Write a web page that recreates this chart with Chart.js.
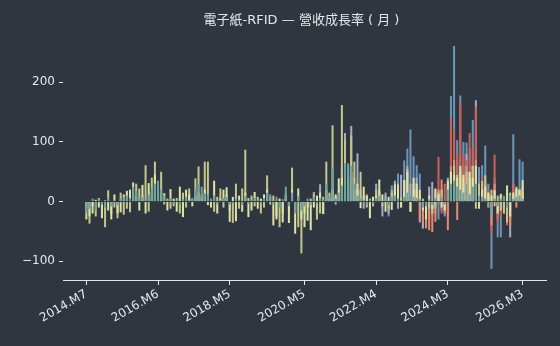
<!DOCTYPE html>
<html>
<head>
<meta charset="utf-8">
<script src="https://cdn.jsdelivr.net/npm/chart.js@4/dist/chart.umd.min.js"></script>
<style>
  html, body { margin: 0; padding: 0; background: #2f3640; }
  #wrap { width: 560px; height: 346px; }
</style>
</head>
<body>
<div id="wrap"><canvas id="chart"></canvas></div>
<script>
// 月份範圍 (含左右留白)
const firstYear = 2013, firstMonth = 12, monthCount = 155;
const dataStart = 7; // 2014.M7
const tickLabels = ['2014.M7', '2016.M6', '2018.M5', '2020.M5', '2022.M4', '2024.M3', '2026.M3'];
const yTickValues = [-100, 0, 100, 200];

// 各公司月營收成長率 (%), 由 2014.M7 起
const tealSeries = [
  -20, -12, 5, -15, 4, -5, -10, 6, -8, 3,
  -6, 5, 8, 10, 6, 25, 18, 5, 8, 4,
  12, 22, 30, 35, 20, 10, 3, 6, -3, 2,
  -5, 4, 8, 2, 6, 20, 30, 25, 14, 12,
  5, 10, -4, 3, 6, 8, -5, -3, 5, 3,
  -6, 10, -4, 3, 6, 2, -3, 6, 15, 12,
  -5, 8, -10, 4, 25, -8, 15, -20, 10, -15,
  -8, 5, -6, 8, -4, 6, 4, 30, 8, 58,
  5, 15, 27, 64, 64, 60, 30, 10, 5, 3,
  -5, 3, -4, 6, 10, -3, 4, -6, 8, 10,
  5, 2, 8, 15, 10, 8, 6, 4, -10, -8,
  4, -6, 6, -4, 8, -5, 20, 30, 35, 25,
  20, 15, 30, 12, 25, 30, 10, 8, 5, -10,
  -25, 5, -8, 5, 8, -10, 10, 5, 8, 10, 5
];
const paleSeries = [
  -30, -25, -20, 3, -10, -28, 2, -15, -30, 12,
  -20, -18, 12, 18, 20, 32, 8, -15, 28, -20,
  31, 15, 45, 20, 15, 14, -15, 21, 5, -17,
  25, -26, 20, 12, -8, 10, 15, 8, 20, -6,
  -10, 35, -20, 5, 20, 24, -34, 8, -33, 10,
  -17, 15, -26, -15, 16, -12, 5, 12, 20, 8,
  -40, -30, 5, -35, 12, -36, 20, -54, 22, -30,
  -43, -32, -48, -10, 10, 15, -21, 20, 5, 20,
  12, 39, 40, 30, 40, 50, 20, 30, -11, 25,
  10, -28, 8, 10, 37, 12, -17, 8, -14, 29,
  27, -10, 36, 50, -17, 40, 30, 20, -15, -30,
  10, -12, 22, 12, -10, -15, 35, 50, 45, 40,
  60, 45, 30, 50, 40, 60, -12, 20, 25, 15,
  10, 19, -20, 13, 5, 27, -25, 15, 22, 20, 36
];
const khakiSeries = [
  -10, -37, -8, -25, 6, -12, -43, 19, -20, -10,
  -28, 15, -22, -12, -18, 10, 30, 22, 10, 61,
  -17, 40, 67, 10, 50, -5, 5, -12, -8, 6,
  -20, 15, -10, 22, 4, 39, 59, 12, 67, 67,
  3, -17, 8, 22, -10, 12, -15, -36, 30, -12,
  22, 87, 6, 10, -8, 8, -20, -10, 44, -5,
  10, -25, -43, -20, 10, -15, 57, -15, -43, -87,
  -20, -10, 5, 12, -30, -20, 8, 67, 15, 128,
  8, 20, 162, 103, 20, 111, 67, 20, 50, 10,
  -10, 5, -8, 20, 15, -8, 5, -12, 15, 18,
  30, 8, 36, 55, -17, 30, 20, 10, 5, -20,
  -12, -20, -10, 15, 20, -8, 30, 50, 60, 45,
  55, 30, 50, 40, 60, -12, 30, 35, 44, 15,
  20, -8, 10, -15, -20, -35, 15, 10, 25, 20, 15
];
// 2020.M7 起
const lavenderStart = 72;
const lavenderSeries = [
  -10, 16, -30, 29, -21, 10, 5, 20, -5, 10,
  60, 115, 60, 127, 40, 81, 20, -12, 12, -20,
  8, 30, 20, -25, 15, -20, 20, 35, -12, 45,
  20, 60, 30, 20, 40, -35, -45, -40, 25, 33,
  -20, 20, -15, -20, 40, 60, 50, 70, 40, 60,
  80, 50, 60, 170, 30, 20, 30, 10, -25, 20,
  -30, 10, -20, 15, -60, 30, 10, 20, 25
];
// 2022.M7 起
const blueStart = 96;
const blueSeries = [
  10, -25, 27, 20, 47, -10, 69, 89, 121, 76,
  61, 47, -45, -43, -30, -20, 15, -30, 20, -25,
  -20, 177, 261, 103, 178, 100, 99, 90, 137, 100,
  58, 61, 94, 30, -113, 40, -60, -60, 10, -20,
  -30, 113, 20, 71, 67
];
// 2023.M1 起
const salmonStart = 106;
const salmonSeries = [
  20, -30, -35, -45, -48, -51, -34, 20, 37, -20,
  -48, 60, 70, -31, 50, 40, 60, 50, 60, 70,
  25, 30, 20, -10, -40, 30, -20, -15, -10, -35,
  -40, 15, -10, 10, 5
];
// 2023.M4 起
const redStart = 109;
const redSeries = [
  -20, -30, -25, 20, 75, -20, 30, -30, 140, 120,
  80, 165, 80, 70, 115, 90, 159, 20, 40, 35,
  20, -53, 79, -35, -25, -15, -40, -30, 30, 10,
  20, 25
];

const labels = [];
for (let i = 0; i < monthCount; i++) {
  const t = firstYear * 12 + (firstMonth - 1) + i;
  labels.push(Math.floor(t / 12) + '.M' + (t % 12 + 1));
}

function place(values, start) {
  const arr = new Array(monthCount).fill(null);
  values.forEach((v, i) => { arr[dataStart + start + i] = v; });
  return arr;
}

const textColor = '#e6e6e6';
const bgColor = '#2f3640';

const series = [
  { data: tealSeries, start: 0, color: '#6fa39d' },
  { data: paleSeries, start: 0, color: '#dde2a5' },
  { data: khakiSeries, start: 0, color: '#c4c58b' },
  { data: salmonSeries, start: salmonStart, color: '#e58b6f' },
  { data: redSeries, start: redStart, color: '#cc5f56' },
  { data: lavenderSeries, start: lavenderStart, color: '#a8a8c6' },
  { data: blueSeries, start: blueStart, color: '#6b96b7' }
];

const titlePlugin = {
  id: 'titleAndBg',
  beforeDraw(chart) {
    const c = chart.ctx;
    c.save();
    c.fillStyle = bgColor;
    c.fillRect(0, 0, chart.width, chart.height);
    c.restore();
  },
  afterDraw(chart) {
    const c = chart.ctx;
    const a = chart.chartArea;
    c.save();
    c.fillStyle = textColor;
    c.font = '13px "DejaVu Sans", "Noto Sans CJK TC", sans-serif';
    c.textAlign = 'center';
    c.textBaseline = 'middle';
    c.fillText('電子紙-RFID — 營收成長率 ( 月 )', (a.left + a.right) / 2 - 3, 21);
    c.restore();
  }
};

const ctx = document.getElementById('chart').getContext('2d');
new Chart(ctx, {
  type: 'bar',
  data: {
    labels: labels,
    datasets: series.map(s => ({
      data: place(s.data, s.start),
      backgroundColor: s.color,
      borderWidth: 0,
      grouped: false,
      barPercentage: 0.65,
      categoryPercentage: 1
    }))
  },
  options: {
    responsive: true,
    maintainAspectRatio: false,
    animation: false,
    layout: { padding: { top: 40, right: 14, left: 0, bottom: 0 } },
    plugins: {
      legend: { display: false },
      title: { display: false },
      tooltip: { enabled: false }
    },
    scales: {
      x: {
        offset: true,
        grid: {
          offset: false,
          drawOnChartArea: false,
          tickLength: 5,
          color: c => tickLabels.includes(labels[c.index]) ? textColor : 'rgba(0,0,0,0)'
        },
        border: { display: true, color: textColor, width: 1 },
        ticks: {
          autoSkip: false,
          minRotation: 30,
          maxRotation: 30,
          padding: 2,
          color: textColor,
          font: { family: 'DejaVu Sans', size: 12 },
          callback: function(v, i) {
            return tickLabels.includes(labels[i]) ? labels[i] : '';
          }
        },
        afterFit: s => { s.height = 66; }
      },
      y: {
        min: -131.6,
        max: 271.1,
        afterBuildTicks: s => { s.ticks = yTickValues.map(v => ({ value: v })); },
        grid: { drawOnChartArea: false, tickLength: 4, color: textColor },
        border: { display: false },
        ticks: {
          padding: 4,
          color: textColor,
          font: { family: 'DejaVu Sans', size: 12 },
          callback: v => (v < 0 ? '\u2212' + Math.abs(v) : String(v))
        },
        afterFit: s => { s.width = 63; }
      }
    }
  },
  plugins: [titlePlugin]
});
</script>
</body>
</html>
